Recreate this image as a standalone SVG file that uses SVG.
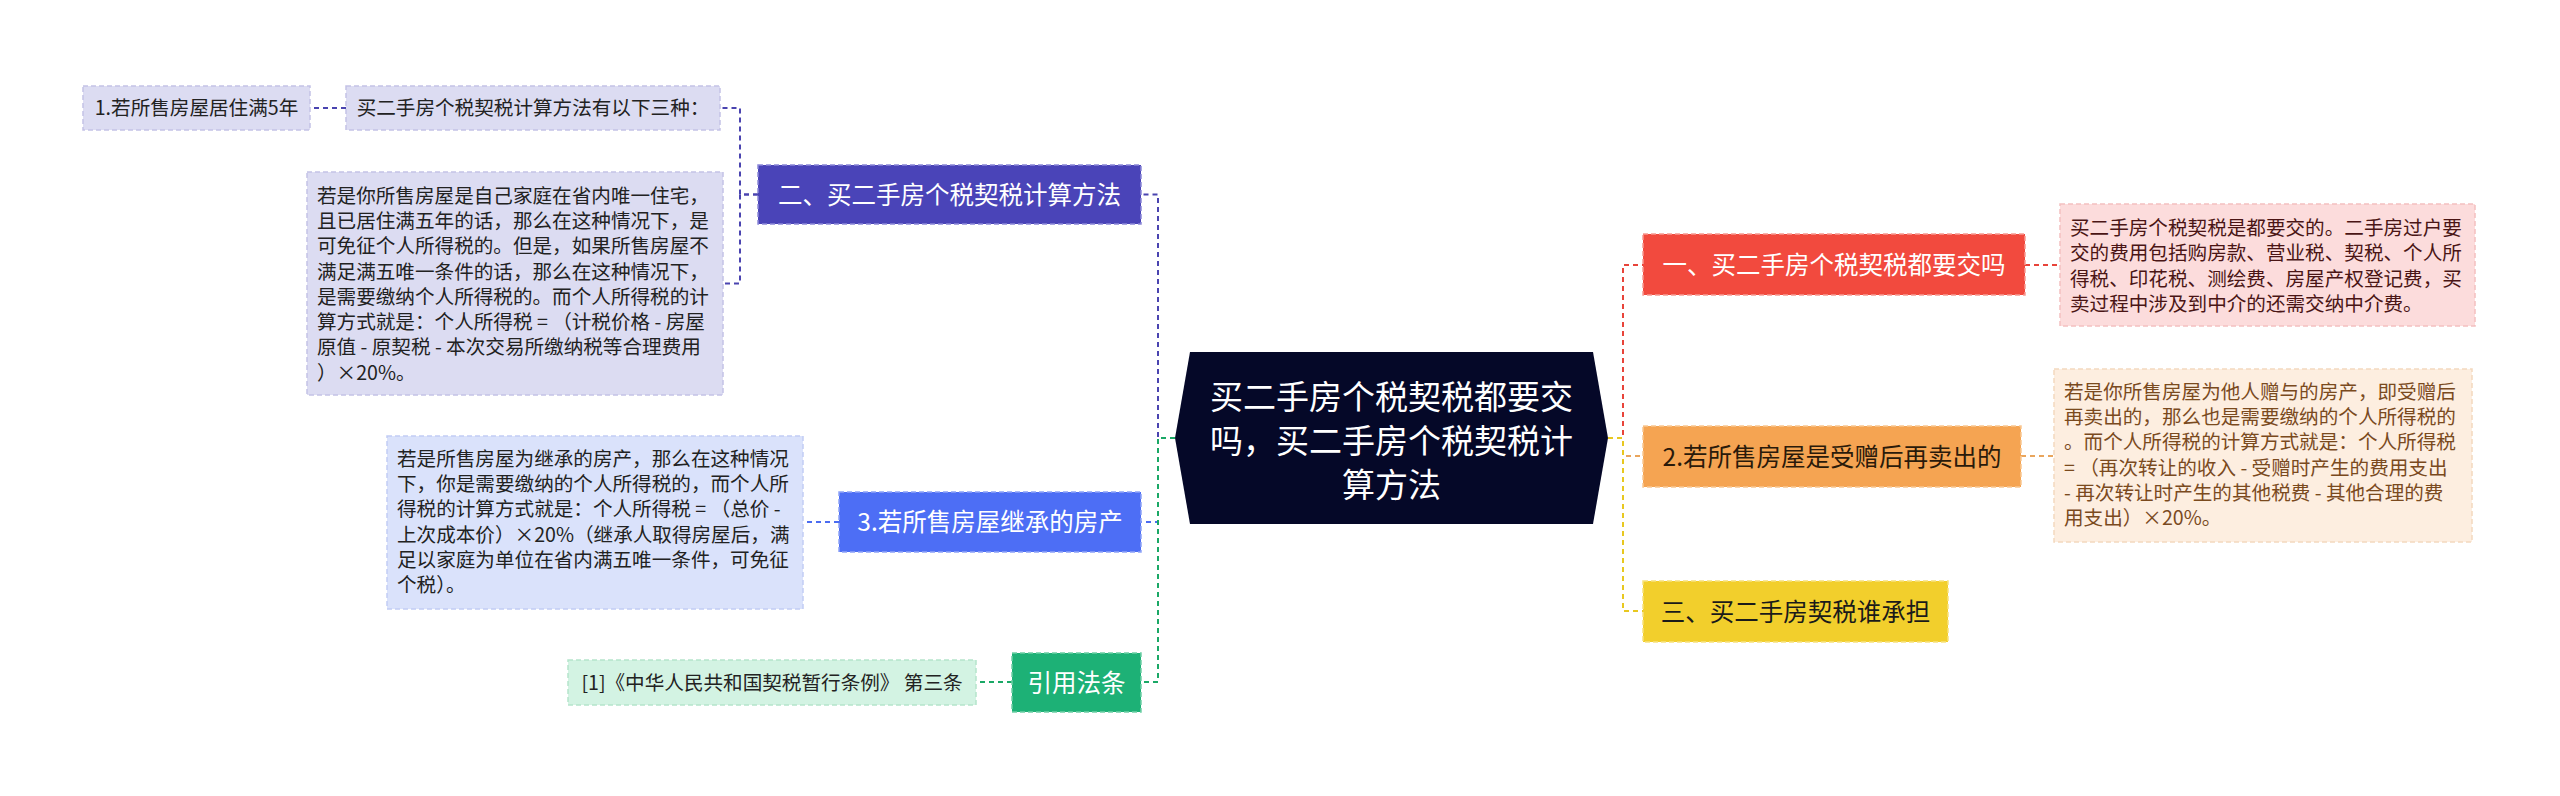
<svg xmlns="http://www.w3.org/2000/svg" width="2560" height="796" viewBox="0 0 2560 796">
<style>
text{font-family:"Noto Sans CJK SC","Noto Sans",sans-serif;}
.leaf{font-size:19.6px;fill:#222;}
.l1{font-size:24.5px;text-anchor:middle;}
.ctr{font-size:33px;fill:#fff;text-anchor:middle;}
.bx{stroke-width:1.5;stroke-dasharray:5 3;}
.cn{fill:none;stroke-width:2;stroke-dasharray:5 4;}
</style>
<rect width="2560" height="796" fill="#fff"/>
<g id="connectors">
<path class="cn" stroke="#4a44b0" d="M1175 438H1158V194.5H1141"/>
<path class="cn" stroke="#4a44b0" d="M758 194.5H740V108H720"/>
<path class="cn" stroke="#4a44b0" d="M758 194.5H740V283.5H723"/>
<path class="cn" stroke="#4a44b0" d="M346 108H310"/>
<path class="cn" stroke="#4b6cf0" d="M1175 438H1158V522H1141"/>
<path class="cn" stroke="#4b6cf0" d="M839 522H803"/>
<path class="cn" stroke="#1aa866" d="M1175 438H1158V682H1141"/>
<path class="cn" stroke="#1aa866" d="M1012 682H976"/>
<path class="cn" stroke="#e8443a" d="M1608 438H1623V265H1643"/>
<path class="cn" stroke="#e8443a" d="M2025 265H2060"/>
<path class="cn" stroke="#e9a55c" d="M1608 438H1623V456H1643"/>
<path class="cn" stroke="#e9a55c" d="M2021 456H2054"/>
<path class="cn" stroke="#e8c820" d="M1608 438H1623V611H1643"/>
</g>
<g id="center">
<polygon points="1190,352 1593,352 1608,438 1593,524 1190,524 1175,438" fill="#050828"/>
<text class="ctr" x="1391.5" y="408.5">买二手房个税契税都要交</text>
<text class="ctr" x="1391.5" y="452.5">吗，买二手房个税契税计</text>
<text class="ctr" x="1391.5" y="496.5">算方法</text>
</g>
<g id="n-method">
<rect class="bx" x="758" y="165" width="383" height="59" fill="#4a44b8" stroke="#8c88d8"/>
<text class="l1" x="949.5" y="203.8" fill="#fff">二、买二手房个税契税计算方法</text>
</g>
<g id="n-three">
<rect class="bx" x="346" y="86" width="374" height="44" fill="#dcdcf2" stroke="#c4c2e6"/>
<text class="leaf" x="533" y="115.4" text-anchor="middle">买二手房个税契税计算方法有以下三种：</text>
</g>
<g id="n-five">
<rect class="bx" x="83" y="86" width="227" height="44" fill="#dcdcf2" stroke="#c4c2e6"/>
<text class="leaf" x="196.5" y="115.4" text-anchor="middle">1.若所售房屋居住满5年</text>
</g>
<g id="n-detail">
<rect class="bx" x="307" y="172" width="416" height="223" fill="#dcdcf2" stroke="#c4c2e6"/>
<text class="leaf" x="317">
<tspan x="317" y="202.6">若是你所售房屋是自己家庭在省内唯一住宅，</tspan>
<tspan x="317" y="227.9">且已居住满五年的话，那么在这种情况下，是</tspan>
<tspan x="317" y="253.2">可免征个人所得税的。但是，如果所售房屋不</tspan>
<tspan x="317" y="278.5">满足满五唯一条件的话，那么在这种情况下，</tspan>
<tspan x="317" y="303.8">是需要缴纳个人所得税的。而个人所得税的计</tspan>
<tspan x="317" y="329.1">算方式就是：个人所得税 = （计税价格 - 房屋</tspan>
<tspan x="317" y="354.4">原值 - 原契税 - 本次交易所缴纳税等合理费用</tspan>
<tspan x="317" y="379.7">）×20%。</tspan>
</text>
</g>
<g id="n-inherit">
<rect class="bx" x="839" y="492" width="302" height="60" fill="#4d6ef5" stroke="#8fa4f8"/>
<text class="l1" x="990" y="531.3" fill="#fff">3.若所售房屋继承的房产</text>
</g>
<g id="n-inherit-detail">
<rect class="bx" x="387" y="436" width="416" height="173" fill="#dae2fb" stroke="#c2cdf5"/>
<text class="leaf">
<tspan x="397" y="465.6">若是所售房屋为继承的房产，那么在这种情况</tspan>
<tspan x="397" y="490.9">下，你是需要缴纳的个人所得税的，而个人所</tspan>
<tspan x="397" y="516.2">得税的计算方式就是：个人所得税 = （总价 -</tspan>
<tspan x="397" y="541.5">上次成本价）×20%（继承人取得房屋后，满</tspan>
<tspan x="397" y="566.8">足以家庭为单位在省内满五唯一条件，可免征</tspan>
<tspan x="397" y="592.1">个税）。</tspan>
</text>
</g>
<g id="n-law">
<rect class="bx" x="1012" y="653" width="129" height="59" fill="#1db176" stroke="#6fd0a6"/>
<text class="l1" x="1076.5" y="691.8" fill="#fff">引用法条</text>
</g>
<g id="n-law-ref">
<rect class="bx" x="568" y="660" width="408" height="45" fill="#d3f3e3" stroke="#b5e5cc"/>
<text class="leaf" x="772" y="689.6" text-anchor="middle">[1]《中华人民共和国契税暂行条例》 第三条</text>
</g>
<g id="n-must">
<rect class="bx" x="1643" y="234" width="382" height="61" fill="#f24a3e" stroke="#f79a93"/>
<text class="l1" x="1834" y="274.3" fill="#fff">一、买二手房个税契税都要交吗</text>
</g>
<g id="n-must-detail">
<rect class="bx" x="2060" y="204" width="415" height="122" fill="#fcdcdc" stroke="#f3c0c0"/>
<text class="leaf" fill="#4a1515">
<tspan x="2070" y="234.9" fill="#4a1515">买二手房个税契税是都要交的。二手房过户要</tspan>
<tspan x="2070" y="260.2" fill="#4a1515">交的费用包括购房款、营业税、契税、个人所</tspan>
<tspan x="2070" y="285.5" fill="#4a1515">得税、印花税、测绘费、房屋产权登记费，买</tspan>
<tspan x="2070" y="310.8" fill="#4a1515">卖过程中涉及到中介的还需交纳中介费。</tspan>
</text>
</g>
<g id="n-gift">
<rect class="bx" x="1643" y="426" width="378" height="61" fill="#f5a452" stroke="#f9c792"/>
<text class="l1" x="1832" y="465.8" fill="#2a1a0a">2.若所售房屋是受赠后再卖出的</text>
</g>
<g id="n-gift-detail">
<rect class="bx" x="2054" y="369" width="418" height="173" fill="#fdeee0" stroke="#f3d9bf"/>
<text class="leaf">
<tspan x="2064" y="398.6" fill="#7a4a1e">若是你所售房屋为他人赠与的房产，即受赠后</tspan>
<tspan x="2064" y="423.9" fill="#7a4a1e">再卖出的，那么也是需要缴纳的个人所得税的</tspan>
<tspan x="2064" y="449.2" fill="#7a4a1e">。而个人所得税的计算方式就是：个人所得税</tspan>
<tspan x="2064" y="474.5" fill="#7a4a1e"> = （再次转让的收入 - 受赠时产生的费用支出</tspan>
<tspan x="2064" y="499.8" fill="#7a4a1e"> - 再次转让时产生的其他税费 - 其他合理的费</tspan>
<tspan x="2064" y="525.1" fill="#7a4a1e">用支出）×20%。</tspan>
</text>
</g>
<g id="n-who">
<rect class="bx" x="1643" y="581" width="305" height="61" fill="#f2cf2c" stroke="#f7e27e"/>
<text class="l1" x="1795.5" y="620.8" fill="#1a1a1a">三、买二手房契税谁承担</text>
</g>
</svg>
